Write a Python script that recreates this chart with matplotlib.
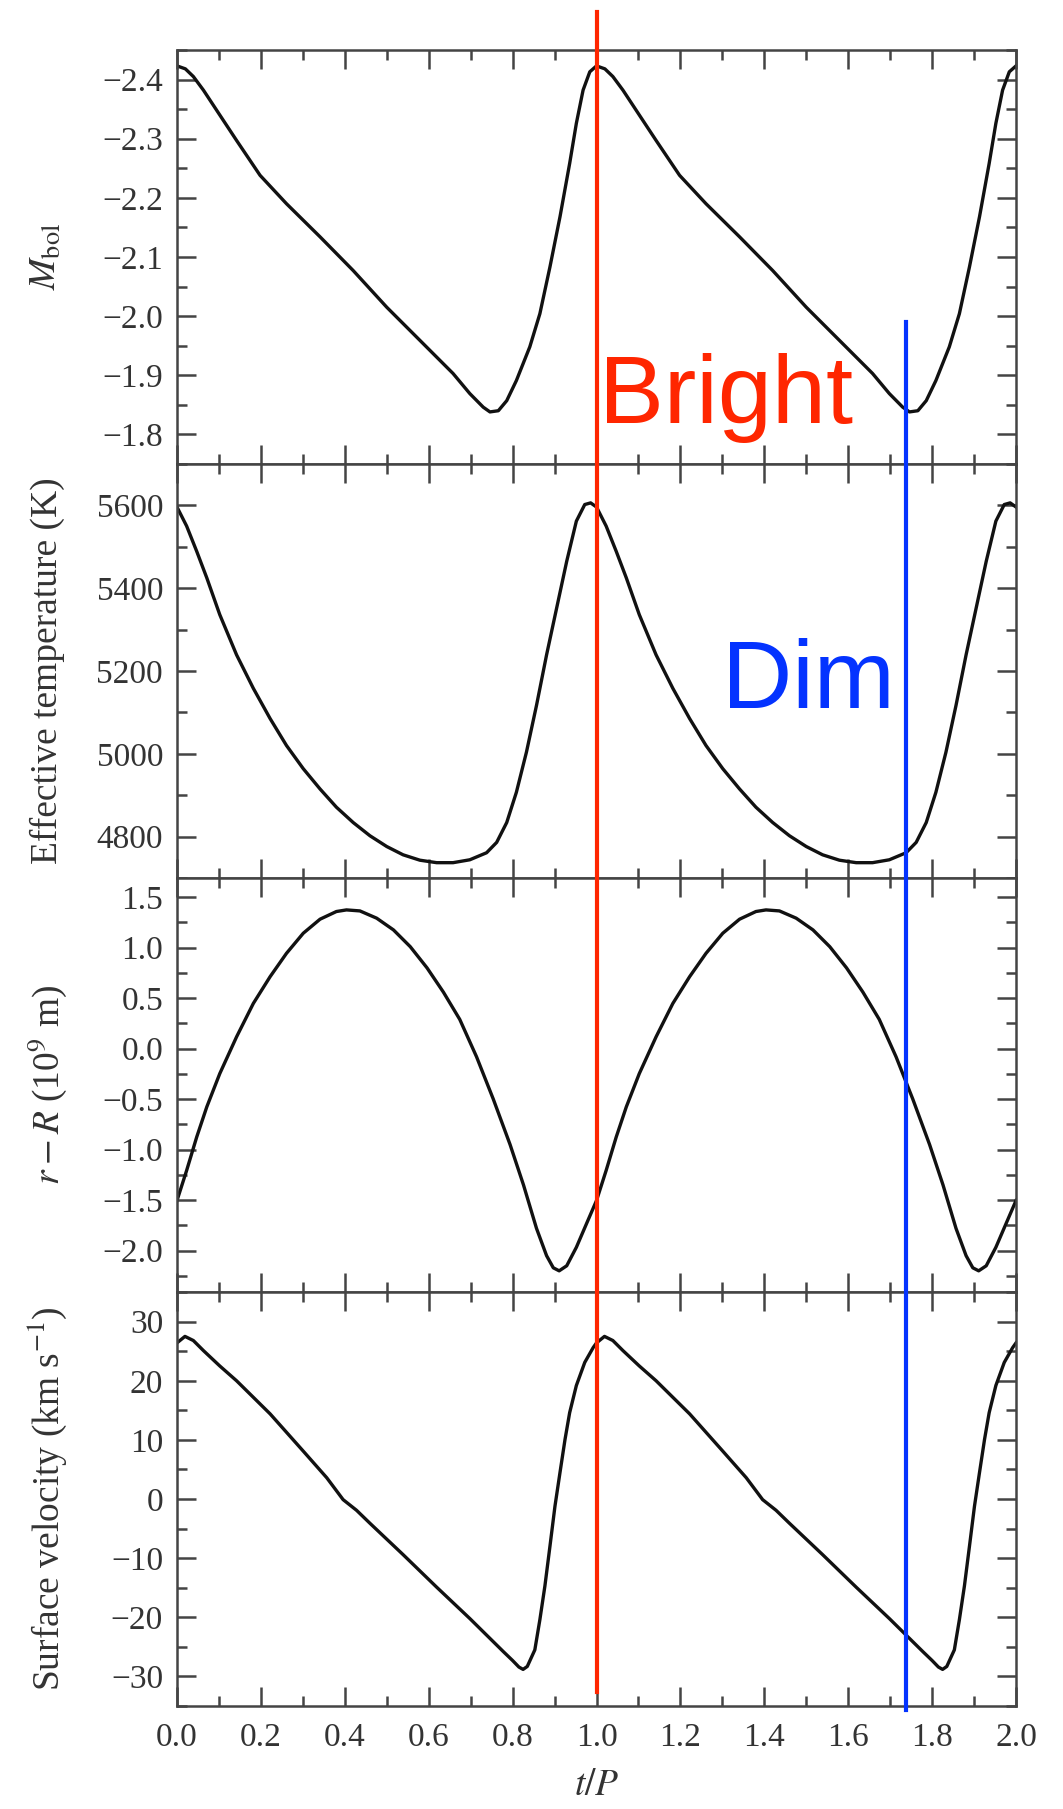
import numpy as np
import matplotlib
matplotlib.use("Agg")
import matplotlib.pyplot as plt
from matplotlib.ticker import MultipleLocator
from matplotlib.lines import Line2D
from matplotlib.transforms import blended_transform_factory

plt.rcParams["font.family"] = ["Liberation Serif", "DejaVu Serif"]
plt.rcParams["mathtext.fontset"] = "stix"

# one pulsation cycle (phase 0..1), shown twice on the t/P axis
mbol_phase = [0.000, 0.020, 0.039, 0.063, 0.102, 0.142, 0.198, 0.261, 0.341,
              0.420, 0.500, 0.579, 0.658, 0.698, 0.730, 0.746, 0.766, 0.786,
              0.809, 0.841, 0.865, 0.889, 0.913, 0.936, 0.952, 0.968, 0.984,
              1.000]
mbol_vals = [-2.423, -2.418, -2.405, -2.382, -2.340, -2.297, -2.238, -2.190,
             -2.134, -2.077, -2.015, -1.959, -1.903, -1.869, -1.846, -1.838,
             -1.840, -1.857, -1.891, -1.948, -2.004, -2.083, -2.168, -2.258,
             -2.326, -2.382, -2.413, -2.423]

teff_phase = [0.000, 0.023, 0.047, 0.071, 0.102, 0.142, 0.182, 0.222, 0.261,
              0.301, 0.341, 0.380, 0.420, 0.460, 0.500, 0.539, 0.579, 0.619,
              0.658, 0.698, 0.738, 0.762, 0.786, 0.809, 0.833, 0.857, 0.881,
              0.905, 0.929, 0.952, 0.972, 0.986, 1.000]
teff_vals = [5596, 5550, 5489, 5425, 5336, 5239, 5158, 5085, 5020, 4964, 4915,
             4871, 4834, 4802, 4776, 4756, 4743, 4737, 4737, 4744, 4761, 4786,
             4834, 4907, 5004, 5117, 5239, 5352, 5465, 5562, 5602, 5606, 5596]

rad_phase = [0.000, 0.023, 0.047, 0.071, 0.102, 0.142, 0.182, 0.222, 0.261,
             0.301, 0.341, 0.380, 0.404, 0.436, 0.476, 0.516, 0.556, 0.596,
             0.635, 0.674, 0.714, 0.754, 0.794, 0.826, 0.857, 0.881, 0.897,
             0.911, 0.929, 0.952, 0.976, 1.000]
rad_vals = [-1.504, -1.206, -0.875, -0.577, -0.247, 0.117, 0.448, 0.713, 0.944,
            1.143, 1.282, 1.358, 1.374, 1.364, 1.292, 1.176, 1.010, 0.800,
            0.560, 0.290, -0.080, -0.500, -0.950, -1.350, -1.780, -2.050,
            -2.170, -2.200, -2.150, -1.967, -1.735, -1.504]

vel_phase = [0.000, 0.019, 0.039, 0.063, 0.102, 0.142, 0.222, 0.301, 0.357,
             0.396, 0.428, 0.460, 0.539, 0.619, 0.698, 0.738, 0.778, 0.800,
             0.815, 0.825, 0.835, 0.853, 0.865, 0.877, 0.889, 0.901, 0.913,
             0.925, 0.936, 0.952, 0.972, 0.992, 1.000]
vel_vals = [26.4, 27.5, 26.8, 25.1, 22.5, 20.0, 14.4, 8.1, 3.6, -0.1, -1.9,
            -4.1, -9.4, -14.9, -20.2, -23.0, -25.8, -27.3, -28.4, -28.8,
            -28.3, -25.5, -20.4, -14.7, -8.0, -1.2, 4.5, 10.1, 14.6, 19.2,
            23.1, 25.6, 26.4]

n_cycles = 2
bright_t = 1.0
dim_t = 1.738

panels = [
    (mbol_phase, mbol_vals, r"$M_{\rm bol}$", (-1.75, -2.45), 0.1, 0.05),
    (teff_phase, teff_vals, "Effective temperature (K)", (4700, 5700), 200, 100),
    (rad_phase, rad_vals, r"$r - R$ (10$^9$ m)", (-2.41, 1.69), 0.5, 0.25),
    (vel_phase, vel_vals, r"Surface velocity (km s$^{-1}$)", (-35, 35), 10, 5),
]

fig = plt.figure(figsize=(10.63, 18.09), dpi=100)
axes = fig.subplots(4, 1, sharex=True)
fig.subplots_adjust(left=0.1665, right=0.9558, top=0.9724, bottom=0.0569,
                    hspace=0)

edge = "#444444"
for ax, (ph, vals, label, ylim, major, minor) in zip(axes, panels):
    ph = np.asarray(ph)
    t = np.concatenate([ph + k for k in range(n_cycles)])
    y = np.concatenate([vals] * n_cycles)
    ax.plot(t, y, color="#111111", lw=2.4, solid_joinstyle="round")
    ax.set_xlim(0, 2)
    ax.set_ylim(*ylim)
    ax.xaxis.set_major_locator(MultipleLocator(0.2))
    ax.xaxis.set_minor_locator(MultipleLocator(0.1))
    ax.yaxis.set_major_locator(MultipleLocator(major))
    ax.yaxis.set_minor_locator(MultipleLocator(minor))
    ax.tick_params(which="both", direction="in", top=True, right=True,
                   color=edge, width=1.8, labelsize=24, labelcolor="#333333")
    ax.tick_params(which="major", length=14, pad=10)
    ax.tick_params(which="minor", length=7)
    for s in ax.spines.values():
        s.set_color(edge)
        s.set_linewidth(1.8)
    ax.set_ylabel(label, fontsize=27, color="#333333", va="center")
    ax.yaxis.set_label_coords(-0.155, 0.5)

axes[-1].set_xlabel(r"$t/P$", fontsize=27, color="#333333", labelpad=11)
axes[-1].tick_params(axis="x", which="major", pad=12)

# marker lines spanning the whole stack
trans = blended_transform_factory(axes[-1].transData, fig.transFigure)
fig.add_artist(Line2D([bright_t, bright_t], [0.9934, 0.0647], transform=trans,
                      color="#FF2600", lw=3.0, zorder=10))
fig.add_artist(Line2D([dim_t, dim_t], [0.8220, 0.0547], transform=trans,
                      color="#0433FF", lw=3.0, zorder=10))

fig.text(599 / 1063, 1 - 423 / 1809, "Bright", color="#FF2600", fontsize=70,
         family=["Liberation Sans", "DejaVu Sans"], va="baseline", ha="left")
fig.text(722 / 1063, 1 - 708 / 1809, "Dim", color="#0433FF", fontsize=70,
         family=["Liberation Sans", "DejaVu Sans"], va="baseline", ha="left")

fig.savefig("out.png", dpi=100)
